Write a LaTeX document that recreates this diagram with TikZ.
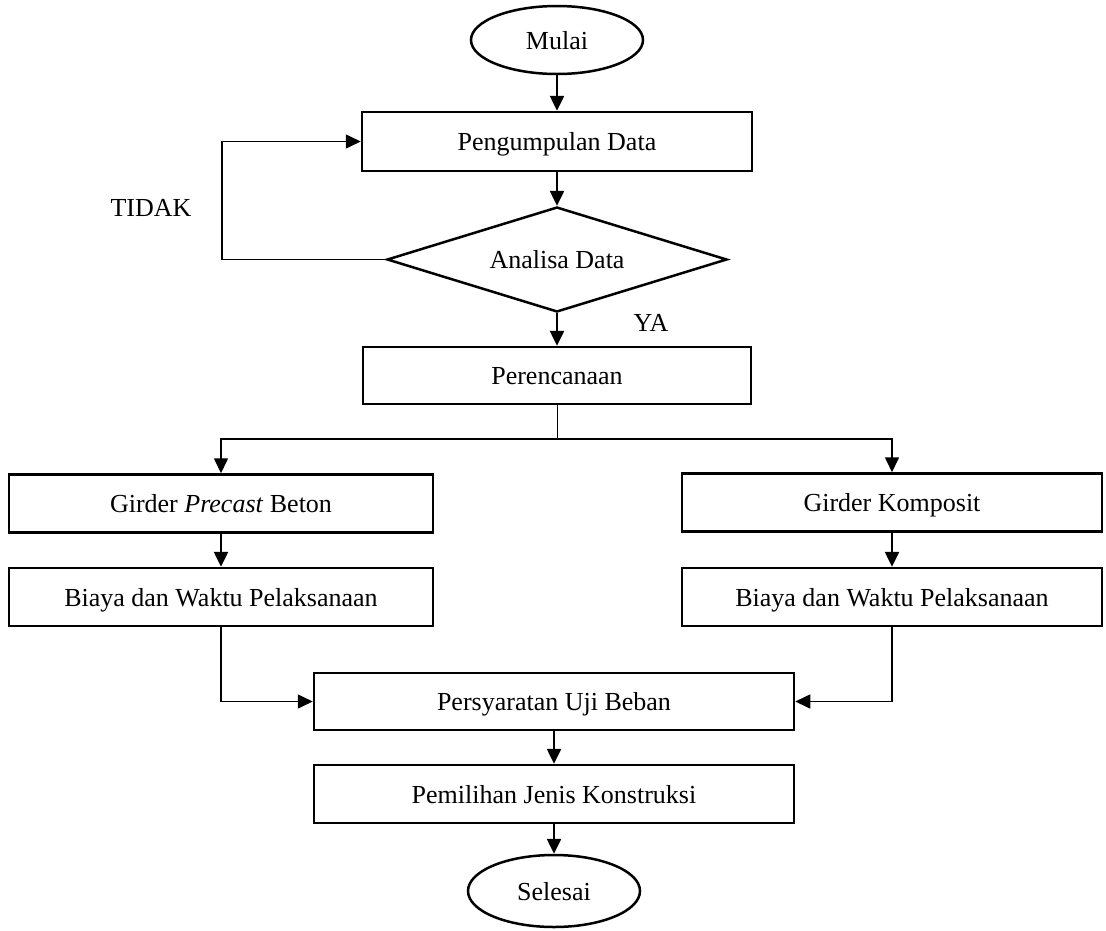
\documentclass[tikz,border=0pt]{standalone}
\usepackage{fontspec}
\setmainfont{Liberation Serif}
\usetikzlibrary{shapes.geometric,arrows.meta}
\begin{document}
\begin{tikzpicture}[x=1pt,y=-1pt,
  txt/.style={font=\fontsize{26}{30}\selectfont},
  ctxt/.style={txt,text height=18pt,text depth=0pt},
  procbox/.style={ctxt,draw,line width=2.5pt,rectangle,inner sep=0pt},
  term/.style={ctxt,draw,line width=2.5pt,ellipse,inner sep=0pt,minimum width=172pt,minimum height=68pt},
  decide/.style={ctxt,draw,line width=2.5pt,diamond,aspect=3.24,inner sep=0pt,minimum width=340pt,minimum height=105pt},
  arr/.style={line width=2.5pt,-{Triangle[length=15pt,width=14pt]}},
  elbow/.style={line width=1.6pt,-{Triangle[length=15pt,width=14pt]}},
  thinline/.style={line width=1pt}
]
\useasboundingbox (0,0) rectangle (1106,930);

\node[term] (mulai) at (557,40) {Mulai};
\node[procbox,minimum width=390pt,minimum height=59pt] (peng) at (557,141.5) {Pengumpulan Data};
\node[decide] (anal) at (557,259.5) {Analisa Data};
\node[procbox,minimum width=388pt,minimum height=57pt] (per) at (557,375.5) {Perencanaan};
\coordinate (split) at (557,439);
\node[procbox,minimum width=424pt,minimum height=58pt] (gpb) at (221,503.5) {Girder \textit{Precast} Beton};
\node[procbox,minimum width=420pt,minimum height=58pt] (gk) at (892,502.5) {Girder Komposit};
\node[procbox,minimum width=424pt,minimum height=58pt] (b1) at (221,597) {Biaya dan Waktu Pelaksanaan};
\node[procbox,minimum width=420pt,minimum height=58pt] (b2) at (892,597) {Biaya dan Waktu Pelaksanaan};
\node[procbox,minimum width=480pt,minimum height=57pt] (pers) at (554,701.5) {Persyaratan Uji Beban};
\node[procbox,minimum width=480pt,minimum height=58pt] (pem) at (554,794) {Pemilihan Jenis Konstruksi};
\node[term,minimum height=72pt] (sel) at (554,891) {Selesai};

\node[ctxt] (tidak) at (151,207) {TIDAK};
\node[ctxt] (ya) at (651,322) {YA};

\draw[arr] (mulai) -- (peng);
\draw[arr] (peng) -- (anal);
\draw[elbow] (anal.west) -- (222,259.5) |- (peng.west);
\draw[arr] (anal) -- (per);
\draw[thinline] (per.south) -- (split);
\draw[elbow] (split) -| (gpb.north);
\draw[elbow] (split) -| (gk.north);
\draw[arr] (gpb) -- (b1);
\draw[arr] (gk) -- (b2);
\draw[elbow] (b1.south) |- (pers.west);
\draw[elbow] (b2.south) |- (pers.east);
\draw[arr] (pers) -- (pem);
\draw[arr] (pem) -- (sel);
\end{tikzpicture}
\end{document}
